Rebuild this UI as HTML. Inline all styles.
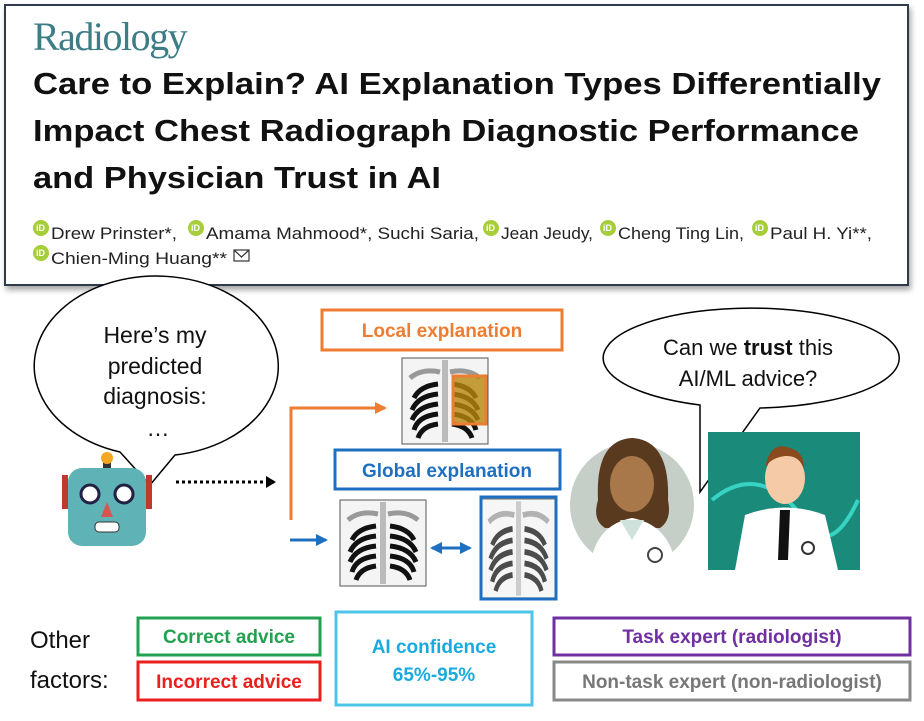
<!DOCTYPE html>
<html><head><meta charset="utf-8"><style>
body{margin:0;background:#fff;width:924px;height:716px;overflow:hidden;font-family:"Liberation Sans",sans-serif}
</style></head><body>
<svg width="924" height="716" viewBox="0 0 924 716" xmlns="http://www.w3.org/2000/svg">
<defs>
<filter id="sh" x="-5%" y="-5%" width="110%" height="115%"><feDropShadow dx="2" dy="4" stdDeviation="3" flood-color="#000" flood-opacity="0.35"/></filter>
<marker id="ao" markerUnits="userSpaceOnUse" markerWidth="14" markerHeight="14" refX="10" refY="7" orient="auto"><path d="M0,1 L12,7 L0,13 z" fill="#ed7d31"/></marker>
<marker id="ab" markerUnits="userSpaceOnUse" markerWidth="14" markerHeight="14" refX="10" refY="7" orient="auto"><path d="M0,1 L12,7 L0,13 z" fill="#1f6fc0"/></marker>
<marker id="abs" markerUnits="userSpaceOnUse" markerWidth="14" markerHeight="14" refX="2" refY="7" orient="auto"><path d="M12,1 L0,7 L12,13 z" fill="#1f6fc0"/></marker>
<marker id="ak" markerUnits="userSpaceOnUse" markerWidth="12" markerHeight="14" refX="8" refY="7" orient="auto"><path d="M0,1 L10,7 L0,13 z" fill="#000"/></marker>
<g id="xr">
<rect x="0" y="0" width="86" height="86" fill="#f4f4f4" stroke="#555" stroke-width="1"/>
<rect x="40" y="2" width="6" height="82" fill="#bbb"/>
<path d="M8,20 Q20,10 38,14 M48,14 Q66,10 78,20" stroke="#999" stroke-width="5" fill="none"/>
<g stroke="#111" stroke-width="5" fill="none">
<path d="M36,26 Q18,28 12,40"/><path d="M36,36 Q16,38 10,52"/><path d="M36,46 Q16,48 10,62"/><path d="M36,56 Q16,58 12,72"/><path d="M36,66 Q20,68 16,80"/>
<path d="M50,26 Q68,28 74,40"/><path d="M50,36 Q70,38 76,52"/><path d="M50,46 Q70,48 76,62"/><path d="M50,56 Q70,58 74,72"/><path d="M50,66 Q66,68 70,80"/>
</g>
</g>
</defs>

<rect x="5" y="5" width="903" height="280" fill="#fff" stroke="#2f3a4f" stroke-width="2" filter="url(#sh)"/>
<text x="33" y="50" font-family="Liberation Serif,serif" font-size="40" fill="#3d7d85" letter-spacing="-1.5">Radiology</text>
<g font-family="Liberation Sans,sans-serif" font-weight="bold" font-size="31" fill="#111">
<text x="33" y="94" textLength="848" lengthAdjust="spacingAndGlyphs">Care to Explain? AI Explanation Types Differentially</text>
<text x="33" y="141" textLength="826" lengthAdjust="spacingAndGlyphs">Impact Chest Radiograph Diagnostic Performance</text>
<text x="33" y="188" textLength="408" lengthAdjust="spacingAndGlyphs">and Physician Trust in AI</text>
</g>
<g fill="#a6ce39"><circle cx="41" cy="228" r="8"/><circle cx="196" cy="228" r="8"/><circle cx="491" cy="228" r="8"/><circle cx="608" cy="228" r="8"/><circle cx="760" cy="228" r="8"/><circle cx="41" cy="253" r="8"/></g>
<g font-size="9" fill="#fff" font-weight="bold"><text x="36" y="231">iD</text><text x="191" y="231">iD</text><text x="486" y="231">iD</text><text x="603" y="231">iD</text><text x="755" y="231">iD</text><text x="36" y="256">iD</text></g>
<g font-size="17" fill="#222">
<text x="51" y="239" textLength="126" lengthAdjust="spacingAndGlyphs">Drew Prinster*,</text>
<text x="206" y="239" textLength="273" lengthAdjust="spacingAndGlyphs">Amama Mahmood*, Suchi Saria,</text>
<text x="501" y="239" textLength="92" lengthAdjust="spacingAndGlyphs">Jean Jeudy,</text>
<text x="618" y="239" textLength="126" lengthAdjust="spacingAndGlyphs">Cheng Ting Lin,</text>
<text x="770" y="239" textLength="102" lengthAdjust="spacingAndGlyphs">Paul H. Yi**,</text>
<text x="51" y="264" textLength="176" lengthAdjust="spacingAndGlyphs">Chien-Ming Huang**</text>
</g>
<rect x="234" y="250" width="15" height="11" fill="none" stroke="#333" stroke-width="1.2"/><path d="M234,250 L241.5,257 L249,250" fill="none" stroke="#333" stroke-width="1.2"/>

<path d="M120,452 A122,90 0 1 1 175,455 L150,485 Z" fill="#fff" stroke="#000" stroke-width="1.5"/>
<g font-size="23" fill="#111" text-anchor="middle">
<text x="155" y="343">Here’s my</text><text x="155" y="374">predicted</text><text x="155" y="404">diagnosis:</text><text x="158" y="436">…</text>
</g>

<rect x="103" y="458" width="8" height="10" fill="#333"/>
<ellipse cx="107" cy="458" rx="6" ry="6" fill="#f5a623"/>
<rect x="62" y="475" width="6" height="34" fill="#c0392b"/><rect x="146" y="475" width="6" height="34" fill="#c0392b"/>
<rect x="68" y="468" width="78" height="78" rx="14" fill="#5fb3b7"/>
<circle cx="90" cy="494" r="9" fill="#fff" stroke="#224" stroke-width="3"/><circle cx="124" cy="494" r="9" fill="#fff" stroke="#224" stroke-width="3"/>
<path d="M107,502 L101,517 L113,517 Z" fill="#d9534f"/>
<rect x="95" y="522" width="24" height="10" rx="4" fill="#fff" stroke="#333"/>

<line x1="176" y1="482" x2="274" y2="482" stroke="#000" stroke-width="3" stroke-dasharray="3,3" marker-end="url(#ak)"/>

<path d="M291,520 L291,408 L385,408" fill="none" stroke="#ed7d31" stroke-width="3" marker-end="url(#ao)"/>
<rect x="322" y="310" width="240" height="40" fill="#fff" stroke="#ed7d31" stroke-width="3"/>
<text x="442" y="337" text-anchor="middle" font-weight="bold" font-size="19" fill="#ed7d31">Local explanation</text>
<use href="#xr" transform="translate(402,358)"/>
<rect x="453" y="376" width="33" height="48" fill="#b8860b" fill-opacity="0.8" stroke="#ed7d31" stroke-width="3"/>

<rect x="335" y="450" width="225" height="39" fill="#fff" stroke="#1f6fc0" stroke-width="3"/>
<text x="447" y="477" text-anchor="middle" font-weight="bold" font-size="19" fill="#1f6fc0">Global explanation</text>
<line x1="290" y1="540" x2="326" y2="540" stroke="#1f6fc0" stroke-width="3" marker-end="url(#ab)"/>
<use href="#xr" transform="translate(340,500)"/>
<line x1="432" y1="548" x2="470" y2="548" stroke="#1f6fc0" stroke-width="3" marker-start="url(#abs)" marker-end="url(#ab)"/>
<g transform="translate(482,499) scale(0.85,1.15)" opacity="0.75"><use href="#xr"/></g>
<rect x="481" y="497" width="75" height="102" fill="none" stroke="#1f6fc0" stroke-width="3"/>

<path d="M700,405 A148,50 0 1 1 760,408 L700,492 Z" fill="#fff" stroke="#000" stroke-width="1.5"/>
<g font-size="22" fill="#111" text-anchor="middle">
<text x="748" y="355">Can we <tspan font-weight="bold">trust</tspan> this</text>
<text x="748" y="386">AI/ML advice?</text>
</g>

<circle cx="632" cy="505" r="62" fill="#c5cfc8"/>
<path d="M598,500 Q595,440 632,438 Q670,440 668,500 Q672,520 660,528 L605,528 Q592,520 598,500Z" fill="#5a3a1f"/>
<ellipse cx="632" cy="484" rx="22" ry="28" fill="#a8774a"/>
<path d="M590,567 Q595,525 632,518 Q670,525 676,567 Z" fill="#fff"/>
<path d="M620,520 L632,540 L644,520 Z" fill="#cfe3dc"/>
<circle cx="655" cy="555" r="7" fill="none" stroke="#444" stroke-width="2"/>

<rect x="708" y="432" width="152" height="138" fill="#1a8a7a"/>
<path d="M712,500 Q760,460 805,520 Q830,560 858,500" stroke="#37d3c3" stroke-width="4" fill="none"/>
<ellipse cx="785" cy="478" rx="20" ry="26" fill="#f5cba7"/>
<path d="M765,468 Q770,440 790,448 Q805,452 804,470 Q800,455 785,456 Q770,458 765,468Z" fill="#8b4a1d"/>
<path d="M735,570 L745,515 Q785,500 825,515 L838,570 Z" fill="#fff"/>
<path d="M780,510 L790,510 L788,560 L778,560 Z" fill="#111"/>
<circle cx="808" cy="548" r="6" fill="none" stroke="#333" stroke-width="2"/>

<g font-size="24" fill="#111"><text x="30" y="648">Other</text><text x="30" y="688">factors:</text></g>
<g font-weight="bold" font-size="19" text-anchor="middle">
<rect x="138" y="618" width="182" height="37" fill="#fff" stroke="#22a150" stroke-width="3"/>
<text x="229" y="643" fill="#22a150">Correct advice</text>
<rect x="138" y="662" width="182" height="38" fill="#fff" stroke="#e8201e" stroke-width="3"/>
<text x="229" y="688" fill="#e8201e">Incorrect advice</text>
<rect x="336" y="612" width="196" height="93" fill="#fff" stroke="#4dc4ea" stroke-width="3"/>
<text x="434" y="653" fill="#1aabde">AI confidence</text>
<text x="434" y="681" fill="#1aabde">65%-95%</text>
<rect x="554" y="618" width="356" height="37" fill="#fff" stroke="#7030a0" stroke-width="3"/>
<text x="732" y="643" fill="#7030a0">Task expert (radiologist)</text>
<rect x="554" y="662" width="356" height="38" fill="#fff" stroke="#888" stroke-width="3"/>
<text x="732" y="688" fill="#777">Non-task expert (non-radiologist)</text>
</g>
</svg>
</body></html>
